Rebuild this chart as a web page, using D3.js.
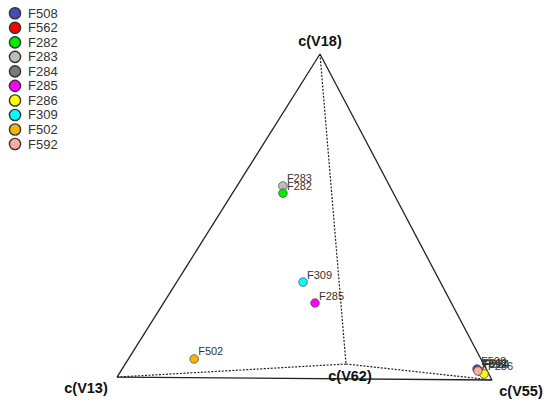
<!DOCTYPE html>
<html><head><meta charset="utf-8">
<script src="https://cdn.jsdelivr.net/npm/d3@7"></script>
<style>body{margin:0;background:#fff}svg{display:block}</style>
</head><body>
<svg id="c" width="550" height="405"></svg>
<script>
// Components (vertices of the tetrahedron)
const components = ["c(V13)", "c(V18)", "c(V55)", "c(V62)"];
// Sample names and colours
const samples = ["F508","F562","F282","F283","F284","F285","F286","F309","F502","F592"];
const colors  = ["#4848c0","#ff0000","#00ee00","#bdbdbd","#7a7a7a","#ff00ff","#ffff00","#00ffff","#f7b500","#ffaaa0"];
// Compositions (proportions of V13, V18, V55, V62)
const V13 = [0.0135, 0.012, 0.259, 0.249, 0.010, 0.2915, 0.0057, 0.294, 0.731, 0.0138];
const V18 = [0.0322, 0.028, 0.566, 0.588, 0.025, 0.2237, 0.0174, 0.288, 0.053, 0.026];
const V55 = [0.9243, 0.930, 0.075, 0.063, 0.940, 0.2848, 0.957, 0.218, 0.116, 0.930];
const V62 = [0.03, 0.03, 0.10, 0.10, 0.025, 0.20, 0.02, 0.20, 0.10, 0.03];
// Drawing order (back to front)
const drawOrder = ["F284","F562","F508","F286","F592","F283","F282","F309","F285","F502"];

// Projected vertex positions in unit plot coordinates
const vertexU = [[0, 0.009], [0.5413, 1], [1, 0], [0.6107, 0.049]];

const svg = d3.select("#c");
const x = d3.scaleLinear().domain([0,1]).range([117, 492]);
const y = d3.scaleLinear().domain([0,1]).range([380, 54]);
const V = vertexU.map(v => [x(v[0]), y(v[1])]);

function proj(i){
  const w = [V13[i], V18[i], V55[i], V62[i]];
  let px = 0, py = 0;
  w.forEach((wi, k) => { px += wi*vertexU[k][0]; py += wi*vertexU[k][1]; });
  return [x(px), y(py)];
}

const edges = [[0,1,false],[1,2,false],[0,2,false],[1,3,true],[0,3,true],[3,2,true]];
svg.append("g").selectAll("line").data(edges).join("line")
  .attr("x1", d => V[d[0]][0]).attr("y1", d => V[d[0]][1])
  .attr("x2", d => V[d[1]][0]).attr("y2", d => V[d[1]][1])
  .attr("stroke", "#222").attr("stroke-width", d => d[2] ? 1.2 : 1.3)
  .attr("stroke-dasharray", d => d[2] ? "2,1.5" : null);

// Vertex labels
const labelPos = [
  {dx: -31, dy: 16, anchor: "middle"},
  {dx: 0, dy: -8, anchor: "middle"},
  {dx: 29, dy: 16, anchor: "middle"},
  {dx: 4, dy: 17, anchor: "middle"}
];
svg.append("g").selectAll("text").data(components).join("text")
  .attr("x", (d,i) => V[i][0] + labelPos[i].dx)
  .attr("y", (d,i) => V[i][1] + labelPos[i].dy)
  .attr("text-anchor", (d,i) => labelPos[i].anchor)
  .attr("font-family", "Liberation Sans, Arial, sans-serif")
  .attr("font-weight", "bold").attr("font-size", 14.5).attr("fill", "#111")
  .text(d => d);

// Points
const order = drawOrder.map(n => samples.indexOf(n));
const gp = svg.append("g");
gp.selectAll("circle").data(order).join("circle")
  .attr("cx", i => proj(i)[0]).attr("cy", i => proj(i)[1]).attr("r", 4.3)
  .attr("fill", i => colors[i]).attr("stroke", "#555").attr("stroke-width", 0.8);
gp.selectAll("text").data(order).join("text")
  .attr("x", i => proj(i)[0] + 4).attr("y", i => proj(i)[1] - 3.5)
  .attr("font-family", "Liberation Sans, Arial, sans-serif").attr("font-size", 11)
  .attr("fill", "#333").text(i => samples[i]);

// Legend
const lg = svg.append("g");
const ly = d3.scaleLinear().domain([0, samples.length-1]).range([13.3, 144]);
lg.selectAll("circle").data(samples).join("circle")
  .attr("cx", 15).attr("cy", (d,i) => ly(i)).attr("r", 5.6)
  .attr("fill", (d,i) => colors[i]).attr("stroke", "#333").attr("stroke-width", 1.4);
lg.selectAll("text").data(samples).join("text")
  .attr("x", 28).attr("y", (d,i) => ly(i) + 4.5)
  .attr("font-family", "Liberation Sans, Arial, sans-serif").attr("font-size", 13)
  .attr("fill", "#333").text(d => d);
</script>
</body></html>
